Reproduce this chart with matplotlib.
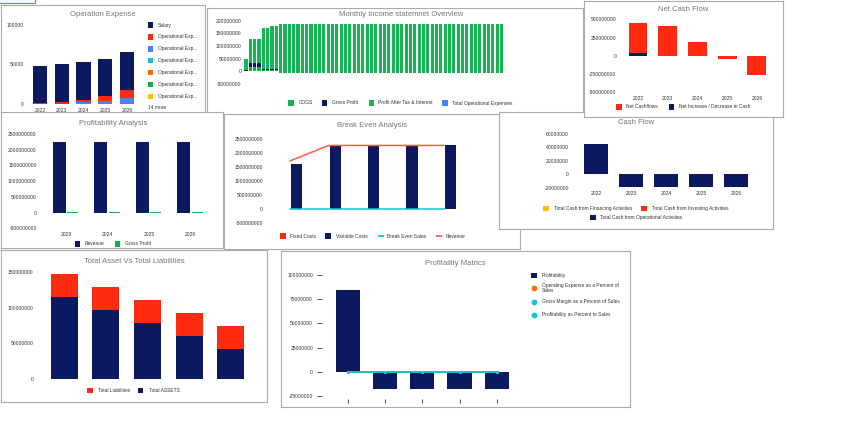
import matplotlib
matplotlib.use('Agg')
import matplotlib.pyplot as plt
from matplotlib.patches import Rectangle
import numpy as np

plt.rcParams['font.family'] = ['Liberation Sans', 'DejaVu Sans']

# ---------------- data ----------------
opex_years = ['2022', '2023', '2024', '2025', '2026']
opex_salary = [47100, 48100, 47700, 47300, 47900]
opex_red = [1000, 2000, 3000, 5500, 10100]
opex_blue = [0, 500, 2500, 4200, 7200]
opex_legend = ['Salary', 'Operational Exp...', 'Operational Exp...', 'Operational Exp...',
               'Operational Exp...', 'Operational Exp...', 'Operational Exp...']
opex_yticks = [0, 50000, 100000]

month_cogs = [0] + [18e6] * 3 + [7e6] * 4 + [-5e6] * 52
month_gp = [4e6] + [16e6] * 3 + [4e6] * 4 + [0] * 52
month_pat = [45e6] + [94e6] * 3 + [161e6] * 2 + [167e6] * 2 + [185e6] * 52
month_toe = [0] * 60
month_legend = ['COGS', 'Gross Profit', 'Profit After Tax & Interest', 'Total Operational Expenses']
month_yticks = [-50000000, 0, 50000000, 100000000, 150000000, 200000000]

ncf_years = ['2022', '2023', '2024', '2025', '2026']
ncf_net = [408e6, 411e6, 188e6, -40e6, -255e6]
ncf_change = [40e6, -5e6, -5e6, -5e6, -5e6]
ncf_legend = ['Net Cashflows', 'Net Increase / Decrease in Cash']
ncf_yticks = [-500000000, -250000000, 0, 250000000, 500000000]

pa_years = ['2023', '2024', '2025', '2026']
pa_revenue = [2.24e9, 2.24e9, 2.24e9, 2.24e9]
pa_gross = [15e6, 15e6, 15e6, 15e6]
pa_legend = ['Revenue', 'Gross Profit']
pa_yticks = [-500000000, 0, 500000000, 1000000000, 1500000000, 2000000000, 2500000000]

be_fixed = [0, 0, 0, 0, 0]
be_variable = [1.61e9, 2.26e9, 2.26e9, 2.26e9, 2.26e9]
be_breakeven = [0, 0, 0, 0, 0]
be_revenue = [1.71e9, 2.26e9, 2.26e9, 2.26e9, 2.26e9]
be_legend = ['Fixed Costs', 'Variable Costs', 'Break Even Sales', 'Revenue']
be_yticks = pa_yticks

cf_years = ['2022', '2023', '2024', '2025', '2026']
cf_fin = [0, 0, 0, 0, 0]
cf_inv = [0, 0, 0, 0, 0]
cf_op = [44.4e6, -18e6, -18e6, -18e6, -18e6]
cf_legend = ['Total Cash from Financing Activities', 'Total Cash from Investing Activities',
             'Total Cash from Operational Activities']
cf_yticks = [-20000000, 0, 20000000, 40000000, 60000000]

ta_assets = [115e6, 97.3e6, 78.7e6, 60.8e6, 42.6e6]
ta_liab = [33e6, 32e6, 32e6, 32e6, 31.5e6]
ta_legend = ['Total Liabilities', 'Total ASSETS']
ta_yticks = [0, 50000000, 100000000, 150000000]

pm_profit = [84.4e6, -18e6, -18e6, -18e6, -18e6]
pm_opex_pct = [0, 0, 0, 0, 0]
pm_gm_pct = [0, 0, 0, 0, 0]
pm_prof_pct = [0, 0, 0, 0, 0]
pm_legend = ['Profitability', 'Operating Expense as a Percent of\nSales',
             'Gross Margin as a Percent of Sales', 'Profitability as Percent to Sales']
pm_yticks = [-25000000, 0, 25000000, 50000000, 75000000, 100000000]

# ---------------- style ----------------
NAVY = '#0b1a5e'; RED = '#ff2a0f'; GREEN = '#10b04d'; CYAN = '#17c3cf'
ORANGE = '#ff6d00'; YELLOW = '#ffc000'; BLUE = '#4285f4'; SALMON = '#ff5a4a'
TITLE_C = '#757575'; TXT = '#333333'; BORDER = '#ababab'
W, H = 850, 429
PT = 0.72  # points per pixel

fig = plt.figure(figsize=(8.5, 4.29), dpi=100)
fig.patch.set_facecolor('white')


def rect(x0, y0, x1, y1):
    return [x0 / W, 1 - y1 / H, (x1 - x0) / W, (y1 - y0) / H]


def frame(x0, y0, x1, y1, z, title, tx, ty):
    ax = fig.add_axes(rect(x0, y0, x1, y1), zorder=z)
    ax.set_xlim(x0, x1); ax.set_ylim(y1, y0)
    ax.set_xticks([]); ax.set_yticks([])
    for s in ax.spines.values():
        s.set_color(BORDER); s.set_linewidth(0.8)
    ax.set_facecolor('white')
    ax.text(tx, ty, title, ha='center', va='center', fontsize=5.5, color=TITLE_C)
    return ax


def content(x0, y0, x1, y1, z, xlim, ylim, yticks, ypad_px, xlabels=None, xpad_px=3):
    ax = fig.add_axes(rect(x0, y0, x1, y1), zorder=z)
    ax.patch.set_alpha(0)
    for s in ax.spines.values():
        s.set_visible(False)
    ax.set_xlim(*xlim); ax.set_ylim(*ylim)
    ax.set_yticks(yticks)
    ax.set_yticklabels([str(int(v)) for v in yticks])
    ax.tick_params(axis='y', length=0, labelsize=3.6, labelcolor=TXT, pad=ypad_px * PT)
    if xlabels is None:
        ax.set_xticks([])
    else:
        ax.set_xticks(range(len(xlabels)))
        ax.set_xticklabels(xlabels)
        ax.tick_params(axis='x', length=0, labelsize=3.6, labelcolor=TXT, pad=xpad_px * PT)
    return ax


def stacked(ax, x, series, colors, width):
    pos = np.zeros(len(x)); neg = np.zeros(len(x))
    for vals, c in zip(series, colors):
        v = np.asarray(vals, float)
        bottom = np.where(v >= 0, pos, neg)
        ax.bar(x, v, width, bottom=bottom, color=c, linewidth=0)
        pos = pos + np.where(v >= 0, v, 0)
        neg = neg + np.where(v < 0, v, 0)


def leg_sq(fa, mx, my, color, label, tx, s=5.5):
    fa.add_patch(Rectangle((mx - s / 2, my - s / 2), s, s, color=color, lw=0))
    fa.text(tx, my, label, ha='left', va='center', fontsize=3.5, color=TXT)


def leg_circ(fa, mx, my, color, label, tx):
    fa.plot([mx], [my], 'o', ms=4.2, color=color, mew=0)
    fa.text(tx, my, label, ha='left', va='center', fontsize=3.5, color=TXT, linespacing=1.0)


def leg_line(fa, mx, my, color, label, tx):
    fa.plot([mx - 3, mx + 3], [my, my], '-', lw=1.3, color=color, solid_capstyle='butt')
    fa.text(tx, my, label, ha='left', va='center', fontsize=3.5, color=TXT)


# ---------- 1. Operation Expense ----------
f1 = frame(1, 5, 205, 116, 2, 'Operation Expense', 102.5, 14.7)
a1 = content(29, 25, 138, 104, 3, (-0.5, 4.5), (0, 100000), opex_yticks, 5, opex_years, 3.5)
stacked(a1, np.arange(5), [opex_blue, opex_red, opex_salary], [BLUE, RED, NAVY], 0.65)
opex_colors = [NAVY, RED, BLUE, CYAN, ORANGE, GREEN, YELLOW]
for i, (lab, c) in enumerate(zip(opex_legend, opex_colors)):
    leg_sq(f1, 150.5, 25 + i * 11.9, c, lab, 158)
f1.text(148, 107.7, '14 more', ha='left', va='center', fontsize=3.5, color=TXT)

# ---------- 2. Monthly Income ----------
f2 = frame(206.5, 8, 583, 130, 4, 'Monthly Income statemnet Overview', 400.7, 14.3)
a2 = content(243.5, 20.7, 575, 84, 5, (-0.58, 76), (-50e6, 200e6), month_yticks, 1.8)
stacked(a2, np.arange(60), [month_cogs, month_gp, month_pat, month_toe],
        [GREEN, NAVY, '#16b752', BLUE], 0.72)
for mx, tx, c, lab in zip([291, 324.5, 371.7, 445], [298.3, 331.5, 378.3, 451.7],
                          [GREEN, NAVY, '#16b752', BLUE], month_legend):
    leg_sq(f2, mx, 103, c, lab, tx)

# ---------- 3. Profitability Analysis ----------
f3 = frame(1, 111.7, 223, 248, 6, 'Profitability Analysis', 113, 123.3)
a3 = content(45.2, 134, 211.3, 228.3, 7, (-0.5, 3.5), (-0.5e9, 2.5e9), pa_yticks, 8.5, pa_years, 4.2)
x = np.arange(4)
a3.bar(x - 0.16, pa_revenue, 0.31, color=NAVY, lw=0)
a3.bar(x + 0.16, pa_gross, 0.27, color=GREEN, lw=0)
leg_sq(f3, 77.7, 244, NAVY, pa_legend[0], 85)
leg_sq(f3, 117.3, 244, GREEN, pa_legend[1], 125)

# ---------- 4. Break Even ----------
f4 = frame(224.3, 113.5, 520, 248.5, 8, 'Break Even Analysis', 372, 125.3)
a4 = content(268, 138.7, 466.9, 222.7, 9, (-0.58, 4.6), (-0.5e9, 2.5e9), be_yticks, 5)
x = np.arange(5)
a4.bar(x - 0.14, be_fixed, 0.29, color=RED, lw=0)
a4.bar(x + 0.17, be_variable, 0.29, color=NAVY, lw=0)
a4.plot(x, be_breakeven, '-', color=CYAN, lw=1.1)
a4.plot(x, be_revenue, '-', color=SALMON, lw=1.1)
leg_sq(f4, 283, 236, RED, be_legend[0], 290.3)
leg_sq(f4, 328, 236, NAVY, be_legend[1], 336)
leg_line(f4, 381, 236, CYAN, be_legend[2], 387)
leg_line(f4, 438.7, 236, SALMON, be_legend[3], 445.3)

# ---------- 5. Cash Flow ----------
f5 = frame(499, 112, 773, 229, 10, 'Cash Flow', 636.3, 122)
a5 = content(578.5, 133.7, 753.5, 188, 11, (-0.5, 4.5), (-20e6, 60e6), cf_yticks, 9.5, cf_years, 3.3)
stacked(a5, np.arange(5), [cf_fin, cf_inv, cf_op], [YELLOW, RED, NAVY], 0.66)
leg_sq(f5, 546, 208.7, YELLOW, cf_legend[0], 554.3)
leg_sq(f5, 644, 208.7, RED, cf_legend[1], 652)
leg_sq(f5, 593, 217.3, NAVY, cf_legend[2], 600.3)

# ---------- 6. Net Cash Flow ----------
f6 = frame(584, 0.5, 783, 117, 12, 'Net Cash Flow', 683, 9.3)
a6 = content(623.2, 19.3, 771.7, 92.3, 13, (-0.5, 4.5), (-500e6, 500e6), ncf_yticks, 7, ncf_years, 3.7)
stacked(a6, np.arange(5), [ncf_change, ncf_net], [NAVY, RED], 0.63)
leg_sq(f6, 619, 107, RED, ncf_legend[0], 626.3)
leg_sq(f6, 671.3, 107, NAVY, ncf_legend[1], 679)

# ---------- 7. Total Asset Vs Total Liabilities ----------
f7 = frame(1, 250, 267, 402, 14, 'Total Asset Vs Total Liabilities', 134.3, 261.3)
a7 = content(43.4, 272.3, 251.5, 379, 15, (-0.5, 4.5), (0, 150e6), ta_yticks, 10)
stacked(a7, np.arange(5), [ta_assets, ta_liab], [NAVY, RED], 0.65)
leg_sq(f7, 90, 390.7, RED, ta_legend[0], 98.3)
leg_sq(f7, 140.7, 390.7, NAVY, ta_legend[1], 149.3)

# ---------- 8. Profitability Matrics ----------
f8 = frame(281, 251.3, 630, 407.3, 16, 'Profitaility Matrics', 455.7, 263.7)
a8 = content(329, 274.7, 515.6, 396.3, 17, (-0.5, 4.5), (-25e6, 100e6), pm_yticks, 4)
x = np.arange(5)
a8.bar(x, pm_profit, 0.65, color=NAVY, lw=0)
a8.plot(x, pm_opex_pct, '-o', color=ORANGE, lw=1.1, ms=2.2, mew=0)
a8.plot(x, pm_gm_pct, '-o', color=CYAN, lw=1.1, ms=2.2, mew=0)
a8.plot(x, pm_prof_pct, '-o', color=CYAN, lw=1.1, ms=2.2, mew=0)
a8.spines['left'].set_position(('outward', 7 * PT))
a8.spines['bottom'].set_position(('outward', 2.4 * PT))
a8.tick_params(axis='y', length=5 * PT, width=0.6, color=TXT)
a8.set_xticks(x)
a8.set_xticklabels([''] * 5)
a8.tick_params(axis='x', length=4.3 * PT, width=0.6, color=TXT)
leg_sq(f8, 534, 275.3, NAVY, pm_legend[0], 541.7)
leg_circ(f8, 534, 288, ORANGE, pm_legend[1], 541.7)
leg_circ(f8, 534, 302, CYAN, pm_legend[2], 541.7)
leg_circ(f8, 534, 314.7, CYAN, pm_legend[3], 541.7)

# ---------- overlay: selection box ----------
ov = fig.add_axes([0, 0, 1, 1], zorder=100)
ov.set_xlim(0, W); ov.set_ylim(H, 0); ov.axis('off'); ov.patch.set_alpha(0)
ov.plot([0, 35, 35], [2.7, 2.7, 0], color='#5b8def', lw=0.9)

fig.savefig('out.png', dpi=100)
